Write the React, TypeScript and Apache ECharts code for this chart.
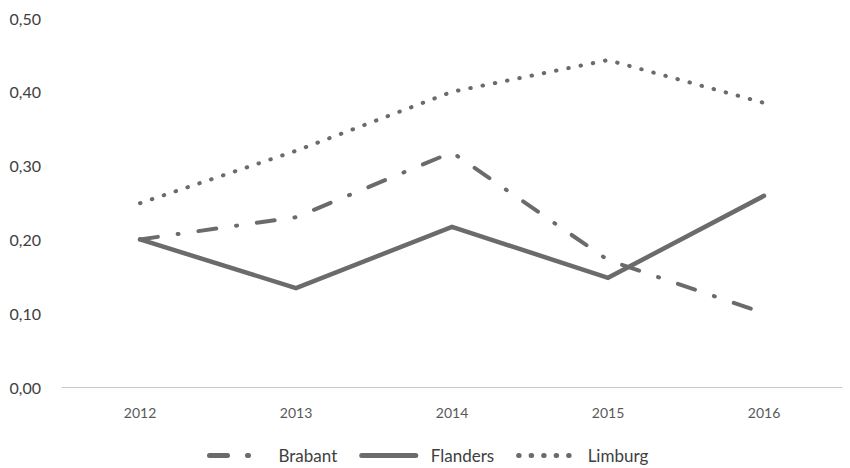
import React, { useEffect, useRef } from "react";
import * as echarts from "echarts";

const years = ["2012", "2013", "2014", "2015", "2016"];
const brabant = [0.2, 0.23, 0.318, 0.172, 0.1];
const flanders = [0.2, 0.134, 0.217, 0.148, 0.259];
const limburg = [0.249, 0.32, 0.4, 0.443, 0.385];
const yTicks = [0, 0.1, 0.2, 0.3, 0.4, 0.5];

const LINE = "#6b6b6b";
const FONT = "Lato, 'Open Sans', sans-serif";

export default function App() {
  const ref = useRef<HTMLDivElement>(null);

  useEffect(() => {
    document.body.style.margin = "0";
    if (!ref.current) return;
    const chart = echarts.init(ref.current, null, { renderer: "svg" });
    chart.setOption({
      animation: false,
      backgroundColor: "#ffffff",
      grid: { left: 62, right: 8, top: 18, bottom: 81, containLabel: false },
      legend: {
        top: 447,
        left: 207,
        itemWidth: 54,
        itemHeight: 14,
        itemGap: 22,
        padding: 0,
        // keep the line sample only, hide the symbol drawn on top of it
        itemStyle: { opacity: 0 },
        lineStyle: { width: 5 },
        textStyle: {
          fontFamily: FONT,
          fontSize: 17,
          lineHeight: 14,
          color: "#404040",
          padding: [0, 0, 0, 10],
        },
        data: ["Brabant", "Flanders", "Limburg"],
      },
      xAxis: {
        type: "category",
        data: years,
        boundaryGap: true,
        axisLine: { show: true, lineStyle: { color: "#c8c8c8", width: 1 } },
        axisTick: { show: false },
        axisLabel: { margin: 18, fontFamily: FONT, fontSize: 14, color: "#595959" },
      },
      yAxis: {
        type: "value",
        min: yTicks[0],
        max: yTicks[yTicks.length - 1],
        interval: 0.1,
        axisLine: { show: false },
        axisTick: { show: false },
        splitLine: { show: false },
        axisLabel: {
          margin: 21,
          fontFamily: FONT,
          fontSize: 16,
          color: "#404040",
          formatter: (v: number) => v.toFixed(2).replace(".", ","),
        },
      },
      series: [
        {
          name: "Brabant",
          type: "line",
          data: brabant,
          symbol: "none",
          lineStyle: { color: LINE, width: 4, type: [18, 20, 1, 20], cap: "round" },
          itemStyle: { color: LINE },
        },
        {
          name: "Flanders",
          type: "line",
          data: flanders,
          symbol: "none",
          lineStyle: { color: LINE, width: 4.5, type: "solid", cap: "round", join: "miter" },
          itemStyle: { color: LINE },
        },
        {
          name: "Limburg",
          type: "line",
          data: limburg,
          symbol: "none",
          lineStyle: { color: LINE, width: 4, type: [0.5, 12], cap: "round" },
          itemStyle: { color: LINE },
        },
      ],
    });
    return () => chart.dispose();
  }, []);

  return <div ref={ref} style={{ width: 850, height: 468 }} />;
}
